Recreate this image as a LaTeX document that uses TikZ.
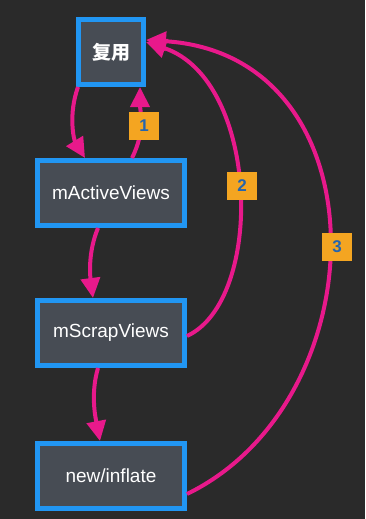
\documentclass[tikz,border=0pt]{standalone}
\usepackage{fontspec}
\setmainfont{Liberation Sans}
\newfontfamily\cjk{Noto Sans CJK SC}
\usetikzlibrary{arrows.meta,positioning}

\definecolor{bg}{HTML}{2A2A2A}
\definecolor{boxfill}{HTML}{474C54}
\definecolor{boxline}{HTML}{2196F3}
\definecolor{flow}{HTML}{E8198B}
\definecolor{tagfill}{HTML}{F4A521}
\definecolor{tagtext}{HTML}{2565AE}

\begin{document}
\begin{tikzpicture}[x=1pt, y=-1pt,
    viewbox/.style={rectangle, draw=boxline, line width=5pt, fill=boxfill, text=white, minimum width=147pt, minimum height=65pt, font=\fontsize{19}{21}\selectfont},
    numtag/.style={rectangle, fill=tagfill, text=tagtext, minimum width=30pt, minimum height=28pt, font=\fontsize{17}{18}\selectfont\bfseries},
    arrow/.style={-{Triangle[length=20pt, width=19pt]}, line width=4pt, draw=flow}
]

\useasboundingbox (0,0) rectangle (365,519);
\fill[bg] (0,0) rectangle (365,519);

\node[viewbox, minimum width=65pt] (reuse) at (111,52) {\cjk\bfseries 复用};
\node[viewbox] (active) at (111,193) {mActiveViews};
\node[viewbox] (scrap) at (111,333) {mScrapViews};
\node[viewbox] (inflate) at (111,476) {new/inflate};

% reuse <-> active
\draw[arrow] ([xshift=-33pt]reuse.south) .. controls (68,115) and (74,140) .. ([xshift=-26pt]active.north);
\draw[arrow] ([xshift=21pt]active.north) .. controls (146,130) and (140,110) .. ([xshift=29pt]reuse.south);

% down the chain
\draw[arrow] ([xshift=-13pt]active.south) .. controls (88,252) and (90,275) .. ([xshift=-18pt]scrap.north);
\draw[arrow] ([xshift=-13pt]scrap.south) .. controls (90,395) and (96,420) .. ([xshift=-11pt]inflate.north);

% back to reuse
\draw[arrow] ([yshift=-3pt]scrap.east) .. controls (265,300) and (260,80) .. ([yshift=10pt]reuse.east);
\draw[arrow] ([yshift=-18pt]inflate.east) .. controls (380,400) and (385,55) .. ([yshift=12pt]reuse.east);

\node[numtag] (one) at (144,126) {1};
\node[numtag] (two) at (242,186) {2};
\node[numtag] (three) at (337,247) {3};

\end{tikzpicture}
\end{document}
